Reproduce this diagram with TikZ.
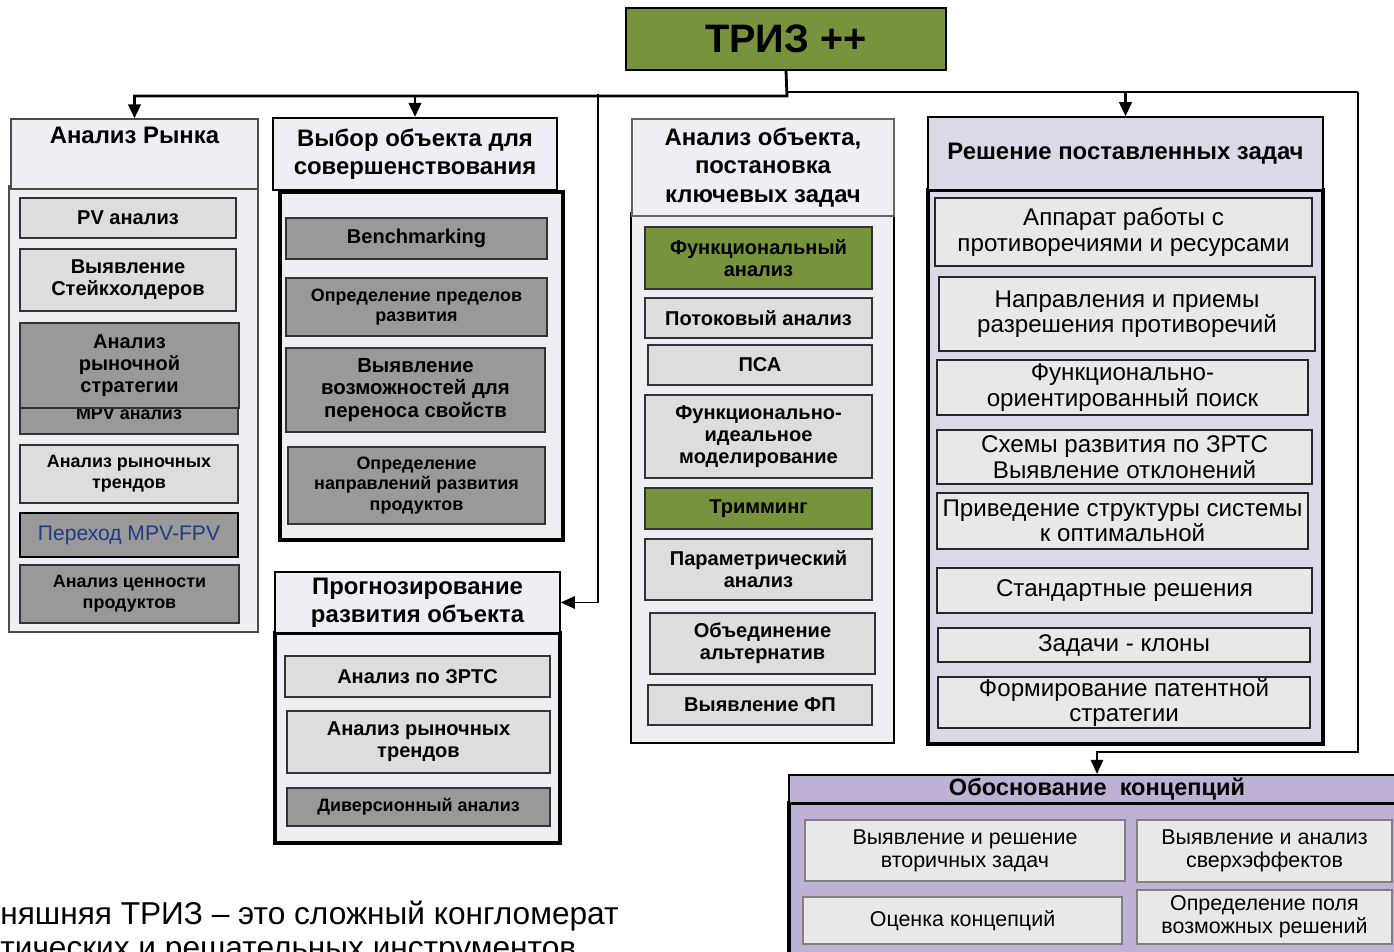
\documentclass[tikz,border=0pt]{standalone}
\usepackage{fontspec}
\setmainfont{Liberation Sans}
\usetikzlibrary{arrows.meta}

\definecolor{trizgreen}{HTML}{77933C}
\definecolor{paleback}{HTML}{F0EEF5}
\definecolor{lilac}{HTML}{DDD8E8}
\definecolor{lilacdark}{HTML}{BFB1D4}
\definecolor{litegray}{HTML}{DDDDDD}
\definecolor{darkgray}{HTML}{999999}
\definecolor{cellgray}{HTML}{E8E8E8}
\definecolor{linkblue}{HTML}{1F3C88}

\begin{document}
\begin{tikzpicture}[x=0.02cm,y=-0.02cm,
  sz/.style 2 args={minimum width=#1*0.02cm, minimum height=#2*0.02cm},
  hdr/.style={draw=black, line width=0.8pt, fill=paleback, font=\bfseries\fontsize{13.6}{16}\selectfont},
  body/.style={draw=black, line width=1.7pt, fill=paleback},
  lite/.style={draw=black!80, line width=0.9pt, fill=litegray, font=\bfseries\fontsize{10.2}{11.8}\selectfont},
  big/.style={font=\bfseries\fontsize{11.4}{12.6}\selectfont},
  dark/.style={lite, fill=darkgray},
  grn/.style={lite, fill=trizgreen},
  cell/.style={draw=black!85, line width=1.1pt, fill=cellgray, font=\fontsize{13.75}{14.5}\selectfont},
  cellb/.style={draw=black!50, line width=1.1pt, fill=cellgray, font=\fontsize{12.2}{13}\selectfont},
  bus/.style={line width=1.6pt},
  arr/.style={line width=1.6pt, -{Triangle[width=7pt,length=8pt]}}]
\tikzstyle{every node}+=[inner sep=0pt, align=center]
\clip (0,0) rectangle (1394,951);

% top
\node[draw=black, line width=0.9pt, fill=trizgreen, sz={320}{62}, font=\bfseries\fontsize{22.6}{25}\selectfont] (triz) at (786,39) {ТРИЗ ++};

% market analysis
\node[body, draw=black!70, line width=0.7pt, sz={249}{446}] (rynokB) at (133.5,409) {};
\node[hdr, draw=black!70, line width=0.7pt, sz={247}{70}] (rynok) at (134.5,154) {Анализ Рынка\\ \strut};
\node[lite, big, sz={216}{40}] (pv) at (128,218) {PV анализ};
\node[lite, big, sz={216}{62}] (stake) at (128,280) {Выявление\\Стейкхолдеров};
\node[dark, sz={218}{42}] (mpv) at (129,413) {MPV анализ};
\node[dark, big, sz={219}{85}] (strat) at (129.5,365.5) {Анализ\\рыночной\\стратегии};
\node[lite, sz={218}{58}] (trend1) at (129,474) {Анализ рыночных\\трендов};
\node[dark, draw=black, line width=1.3pt, sz={218}{44}, font=\fontsize{12}{14}\selectfont, text=linkblue] (mpvfpv) at (129,535) {Переход MPV-FPV};
\node[dark, sz={219}{58}] (cennost) at (129.5,594) {Анализ ценности\\продуктов};

% object choice
\node[body, line width=2pt, sz={283}{348}] (vybB) at (421.5,366) {};
\node[hdr, line width=1.2pt, sz={284}{72}] (vybor) at (415,154) {Выбор объекта для\\совершенствования};
\node[dark, big, sz={261}{41}] (bench) at (416.5,238.5) {Benchmarking};
\node[dark, sz={261}{58}] (predel) at (416.5,307) {Определение пределов\\развития};
\node[dark, sz={259}{84}, font=\bfseries\fontsize{11.6}{12.6}\selectfont] (perenos) at (415.5,390) {Выявление\\возможностей для\\переноса свойств};
\node[dark, sz={257}{77}] (naprav) at (416.5,485.5) {Определение\\направлений развития\\продуктов};

% forecast
\node[body, line width=2pt, sz={285}{210}] (progB) at (417.5,738) {};
\node[hdr, sz={285}{61}] (prog) at (417.5,602.5) {Прогнозирование\\развития объекта};
\node[lite, big, sz={265}{41}] (zrts) at (417.5,676.5) {Анализ по ЗРТС};
\node[lite, big, sz={263}{62}] (trend2) at (418.5,742) {Анализ рыночных\\трендов};
\node[dark, sz={263}{38}] (divers) at (418.5,807) {Диверсионный анализ};

% object analysis
\node[body, line width=1.6pt, sz={263}{530}] (anB) at (762.5,478) {};
\node[hdr, draw=black!60, line width=0.7pt, sz={262}{97}] (analiz) at (763,167.5) {Анализ объекта,\\постановка\\ключевых задач};
\node[grn, big, sz={227}{62}] (funk) at (758.5,258) {Функциональный\\анализ};
\node[lite, big, sz={227}{40}] (potok) at (758.5,318) {Потоковый анализ};
\node[lite, big, sz={224}{40}] (psa) at (760,365) {ПСА};
\node[lite, big, sz={227}{83}] (fim) at (758.5,436.5) {Функционально-\\идеальное\\моделирование};
\node[grn, big, sz={227}{41}] (trim) at (758.5,508.5) {Тримминг};
\node[lite, big, sz={227}{61}] (param) at (758.5,569.5) {Параметрический\\анализ};
\node[lite, big, sz={225}{61}] (obed) at (762.5,643.5) {Объединение\\альтернатив};
\node[lite, big, sz={224}{40}] (fp) at (760,705) {Выявление ФП};

% solving
\node[body, fill=lilac, line width=1.8pt, sz={395}{554}] (reshB) at (1125.5,467) {};
\node[hdr, fill=lilac, sz={395}{73}] (resh) at (1125.5,153.5) {Решение поставленных задач};
\node[cell, sz={377}{68}] (app) at (1123.5,232) {Аппарат работы с\\противоречиями и ресурсами};
\node[cell, sz={376}{74}] (napr) at (1127,314) {Направления и приемы\\разрешения противоречий};
\node[cell, sz={371}{55}] (fop) at (1122.5,387.5) {Функционально-\\ориентированный поиск};
\node[cell, sz={375}{54}] (shem) at (1124.5,457) {Схемы развития по ЗРТС\\Выявление отклонений};
\node[cell, sz={371}{56}] (priv) at (1122.5,521) {Приведение структуры системы\\к оптимальной};
\node[cell, sz={375}{45}] (stand) at (1124.5,590.5) {Стандартные решения};
\node[cell, sz={372}{34}] (klon) at (1124,645) {Задачи - клоны};
\node[cell, sz={372}{51}] (patent) at (1124,702.5) {Формирование патентной\\стратегии};

% concepts
\node[body, fill=lilacdark, line width=1.8pt, sz={616}{157}] (obB) at (1097,881.5) {};
\node[hdr, fill=lilacdark, line width=1.2pt, sz={616}{28}, font=\bfseries\fontsize{13.4}{15}\selectfont] (obosn) at (1097,789) {Обоснование\ \ концепций};
\node[cellb, sz={320}{61}] (vtor) at (965,850.5) {Выявление и решение\\вторичных задач};
\node[cellb, sz={255}{62}] (sverh) at (1264.5,851) {Выявление и анализ\\сверхэффектов};
\node[cellb, sz={319}{47}] (ocenka) at (962.5,920.5) {Оценка концепций};
\node[cellb, sz={255}{54}] (pole) at (1264.5,917) {Определение поля\\возможных решений};

% text below
\node[anchor=base west, font=\fontsize{18}{20}\selectfont] (txt1) at (0,924) {няшняя ТРИЗ – это сложный конгломерат};
\node[anchor=base west, font=\fontsize{18}{20}\selectfont] (txt2) at (0,958) {тических и решательных инструментов};

% connectors
\coordinate (j0) at (787,96);
\coordinate (j1) at (787,92);
\coordinate (j2) at (598,94);
\coordinate (r0) at (1358,92);
\draw[arr] (triz.south) -- (j0) -| (rynok.north);
\draw[arr] (j0 -| vybor.north) -- (vybor.north);
\draw[bus] (j0) -- (j1) -- (r0);
\draw[arr] (j1 -| resh.north) -- (resh.north);
\draw[arr, line width=1.1pt] (j2) |- (prog.east);
\draw[arr, line width=1.1pt] (r0) |- (1097,752) -- (obosn.north);
\end{tikzpicture}
\end{document}
